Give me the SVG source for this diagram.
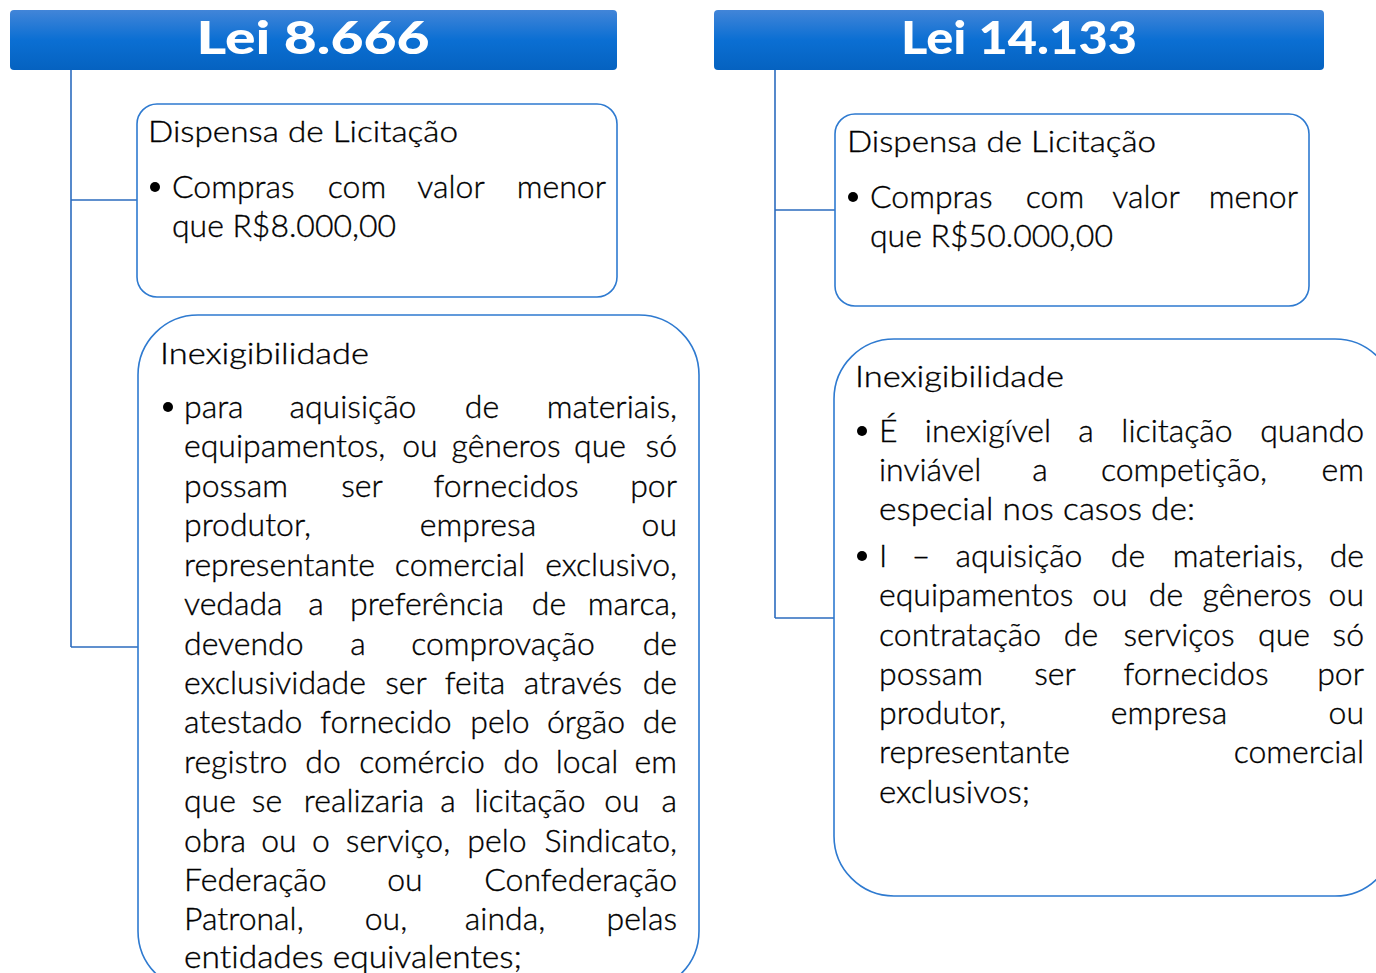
<svg xmlns="http://www.w3.org/2000/svg" width="1376" height="973" viewBox="0 0 1376 973">
<defs>
<linearGradient id="hdr" x1="0" y1="0" x2="0" y2="1">
<stop offset="0" stop-color="#4285d8"/>
<stop offset="0.5" stop-color="#0b6fd3"/>
<stop offset="1" stop-color="#0562c0"/>
</linearGradient>
<style>
.hbar{fill:url(#hdr)}
.htxt{font-family:Lato,"Noto Sans",sans-serif;font-weight:900;font-size:46px;fill:#fff;text-anchor:middle}
.box{fill:#fff;stroke:#2e7ad0;stroke-width:1.6}
.conn{fill:none;stroke:#2c6cbf;stroke-width:1.6}
.t{font-family:Lato,"Noto Sans",sans-serif;font-weight:300;fill:#000;stroke:#000;stroke-width:0.35;font-variant-ligatures:none}
.h{font-size:29px}
.b{font-size:32px}
.m{text-anchor:middle}
.e{text-anchor:end}
.dot{fill:#000}
</style>
</defs>
<rect width="1376" height="973" fill="#fff"/>

<g id="connectors">
<path class="conn" d="M71 70 V647 M71 200 H137 M71 647 H138"/>
<path class="conn" d="M775 70 V618 M775 210 H835 M775 618 H834"/>
</g>

<g id="lei8666">
<rect class="hbar" x="10" y="10" width="607" height="60" rx="4"/>
<text class="htxt" x="313" y="54" textLength="233" lengthAdjust="spacingAndGlyphs">Lei 8.666</text>
</g>

<g id="lei14133">
<rect class="hbar" x="714" y="10" width="610" height="60" rx="4"/>
<text class="htxt" x="1019" y="54" textLength="236" lengthAdjust="spacingAndGlyphs">Lei 14.133</text>
</g>

<g id="dispensa8666">
<rect class="box" x="137" y="104" width="480" height="193" rx="20"/>
<text class="t h" x="148" y="142" textLength="310" lengthAdjust="spacingAndGlyphs">Dispensa de Licitação</text>
<circle class="dot" cx="155" cy="187" r="5"/>
<text class="t b" x="172" y="198">Compras</text>
<text class="t b m" x="357" y="198">com</text>
<text class="t b m" x="451" y="198">valor</text>
<text class="t b e" x="606" y="198">menor</text>
<text class="t b" x="172" y="237" textLength="224" lengthAdjust="spacingAndGlyphs">que R$8.000,00</text>
</g>

<g id="inexig8666">
<rect class="box" x="138" y="315" width="561" height="676" rx="60"/>
<text class="t h" x="160" y="364" textLength="209" lengthAdjust="spacingAndGlyphs">Inexigibilidade</text>
<circle class="dot" cx="168" cy="407" r="5"/>
<text class="t b" x="184" y="418">para</text>
<text class="t b m" x="353" y="418">aquisição</text>
<text class="t b m" x="482" y="418">de</text>
<text class="t b e" x="677" y="418">materiais,</text>

<text class="t b" x="184" y="457">equipamentos,</text>
<text class="t b m" x="420" y="457">ou</text>
<text class="t b m" x="506" y="457">gêneros</text>
<text class="t b m" x="600" y="457">que</text>
<text class="t b e" x="677" y="457">só</text>

<text class="t b" x="184" y="497">possam</text>
<text class="t b m" x="362" y="497">ser</text>
<text class="t b m" x="506" y="497">fornecidos</text>
<text class="t b e" x="677" y="497">por</text>

<text class="t b" x="184" y="536">produtor,</text>
<text class="t b m" x="478" y="536">empresa</text>
<text class="t b e" x="677" y="536">ou</text>

<text class="t b" x="184" y="576">representante</text>
<text class="t b m" x="460" y="576">comercial</text>
<text class="t b e" x="677" y="576">exclusivo,</text>

<text class="t b" x="184" y="615">vedada</text>
<text class="t b m" x="316" y="615">a</text>
<text class="t b m" x="427" y="615">preferência</text>
<text class="t b m" x="549" y="615">de</text>
<text class="t b e" x="677" y="615">marca,</text>

<text class="t b" x="184" y="655">devendo</text>
<text class="t b m" x="358" y="655">a</text>
<text class="t b m" x="503" y="655">comprovação</text>
<text class="t b e" x="677" y="655">de</text>

<text class="t b" x="184" y="694">exclusividade</text>
<text class="t b m" x="406" y="694">ser</text>
<text class="t b m" x="475" y="694">feita</text>
<text class="t b m" x="573" y="694">através</text>
<text class="t b e" x="677" y="694">de</text>

<text class="t b" x="184" y="733">atestado</text>
<text class="t b m" x="386" y="733">fornecido</text>
<text class="t b m" x="500" y="733">pelo</text>
<text class="t b m" x="586" y="733">órgão</text>
<text class="t b e" x="677" y="733">de</text>

<text class="t b" x="184" y="773">registro</text>
<text class="t b m" x="323" y="773">do</text>
<text class="t b m" x="422" y="773">comércio</text>
<text class="t b m" x="521" y="773">do</text>
<text class="t b m" x="587" y="773">local</text>
<text class="t b e" x="677" y="773">em</text>

<text class="t b" x="184" y="812">que</text>
<text class="t b m" x="267" y="812">se</text>
<text class="t b m" x="364" y="812">realizaria</text>
<text class="t b m" x="448" y="812">a</text>
<text class="t b m" x="530" y="812">licitação</text>
<text class="t b m" x="622" y="812">ou</text>
<text class="t b e" x="677" y="812">a</text>

<text class="t b" x="184" y="852">obra</text>
<text class="t b m" x="279" y="852">ou</text>
<text class="t b m" x="321" y="852">o</text>
<text class="t b m" x="398" y="852">serviço,</text>
<text class="t b m" x="497" y="852">pelo</text>
<text class="t b e" x="677" y="852">Sindicato,</text>

<text class="t b" x="184" y="891">Federação</text>
<text class="t b m" x="405" y="891">ou</text>
<text class="t b e" x="677" y="891">Confederação</text>

<text class="t b" x="184" y="930">Patronal,</text>
<text class="t b m" x="386" y="930">ou,</text>
<text class="t b m" x="505" y="930">ainda,</text>
<text class="t b e" x="677" y="930">pelas</text>

<text class="t b" x="184" y="968" textLength="338" lengthAdjust="spacingAndGlyphs">entidades equivalentes;</text>
</g>

<g id="dispensa14133">
<rect class="box" x="835" y="114" width="474" height="192" rx="20"/>
<text class="t h" x="847" y="152" textLength="309" lengthAdjust="spacingAndGlyphs">Dispensa de Licitação</text>
<circle class="dot" cx="853" cy="197" r="5"/>
<text class="t b" x="870" y="208">Compras</text>
<text class="t b m" x="1055" y="208">com</text>
<text class="t b m" x="1146" y="208">valor</text>
<text class="t b e" x="1298" y="208">menor</text>
<text class="t b" x="870" y="247" textLength="243" lengthAdjust="spacingAndGlyphs">que R$50.000,00</text>
</g>

<g id="inexig14133">
<rect class="box" x="834" y="339" width="561" height="557" rx="60"/>
<text class="t h" x="855" y="387" textLength="209" lengthAdjust="spacingAndGlyphs">Inexigibilidade</text>
<circle class="dot" cx="862" cy="431" r="5"/>
<text class="t b" x="879" y="442">É</text>
<text class="t b m" x="988" y="442">inexigível</text>
<text class="t b m" x="1086" y="442">a</text>
<text class="t b m" x="1177" y="442">licitação</text>
<text class="t b e" x="1364" y="442">quando</text>

<text class="t b" x="879" y="481">inviável</text>
<text class="t b m" x="1040" y="481">a</text>
<text class="t b m" x="1184" y="481">competição,</text>
<text class="t b e" x="1364" y="481">em</text>

<text class="t b" x="879" y="520" textLength="316" lengthAdjust="spacingAndGlyphs">especial nos casos de:</text>

<circle class="dot" cx="862" cy="556" r="5"/>
<text class="t b" x="879" y="567">I</text>
<text class="t b m" x="921" y="567">–</text>
<text class="t b m" x="1019" y="567">aquisição</text>
<text class="t b m" x="1128" y="567">de</text>
<text class="t b m" x="1238" y="567">materiais,</text>
<text class="t b e" x="1364" y="567">de</text>

<text class="t b" x="879" y="606">equipamentos</text>
<text class="t b m" x="1110" y="606">ou</text>
<text class="t b m" x="1166" y="606">de</text>
<text class="t b m" x="1257" y="606">gêneros</text>
<text class="t b e" x="1364" y="606">ou</text>

<text class="t b" x="879" y="646">contratação</text>
<text class="t b m" x="1081" y="646">de</text>
<text class="t b m" x="1179" y="646">serviços</text>
<text class="t b m" x="1284" y="646">que</text>
<text class="t b e" x="1364" y="646">só</text>

<text class="t b" x="879" y="685">possam</text>
<text class="t b m" x="1055" y="685">ser</text>
<text class="t b m" x="1196" y="685">fornecidos</text>
<text class="t b e" x="1364" y="685">por</text>

<text class="t b" x="879" y="724">produtor,</text>
<text class="t b m" x="1169" y="724">empresa</text>
<text class="t b e" x="1364" y="724">ou</text>

<text class="t b" x="879" y="763">representante</text>
<text class="t b e" x="1364" y="763">comercial</text>

<text class="t b" x="879" y="803" textLength="151" lengthAdjust="spacingAndGlyphs">exclusivos;</text>
</g>
</svg>
